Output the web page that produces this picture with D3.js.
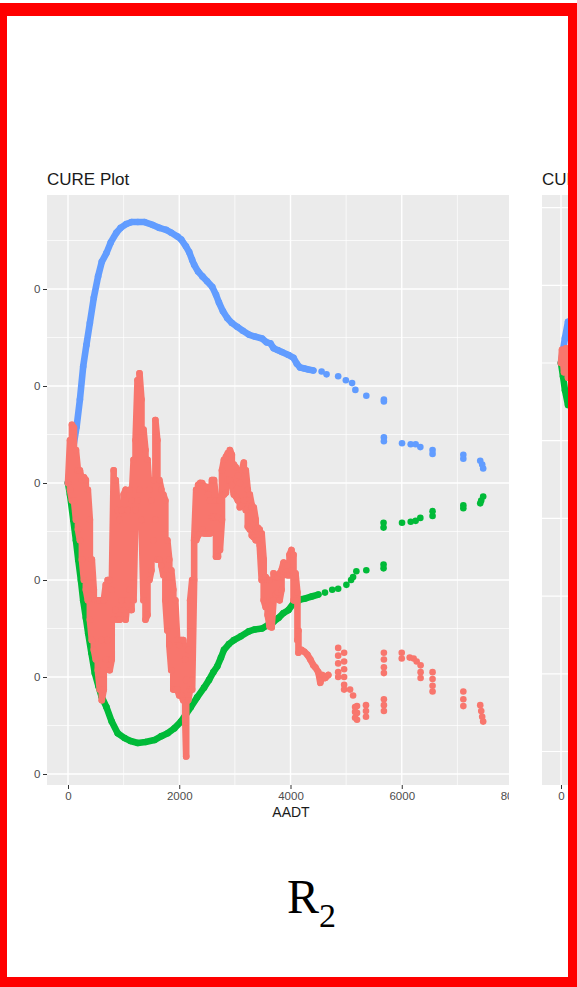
<!DOCTYPE html>
<html>
<head>
<meta charset="utf-8">
<script src="https://cdn.jsdelivr.net/npm/d3@7"></script>
<style>
  body { margin: 0; background: #fff; }
</style>
</head>
<body>
<script>
// Data: [AADT, cumulative residual]

// CURE, dense part (consecutive observations overlap)
var cureLine = [
  [0,0],[36,0.44],[36,-0.07],[71,-0.18],[71,0.60],[107,0.57],[107,-0.18],[143,-0.38],[143,0.34],[179,0.13],[179,-0.48],
  [214,-0.59],[214,0.13],[250,0.03],[250,-0.79],[286,-1.00],[286,0.06],[321,0.03],[321,-1.10],[357,-1.21],[357,-0.07],
  [393,-0.38],[393,-1.41],[429,-1.62],[429,-0.79],[464,-1.10],[464,-1.72],[500,-1.82],[500,-1.21],[536,-1.21],[536,-1.93],
  [571,-2.13],[571,-1.21],[607,-1.62],[607,-2.24],[643,-2.13],[643,-1.21],[679,-1.05],[679,-1.82],[714,-1.62],[714,-1.00],
  [750,-1.00],[750,-1.93],[786,-1.82],[786,-1.10],[821,0.13],[821,-1.41],[857,-1.31],[857,0.03],[893,-0.28],[893,-1.41],
  [929,-1.41],[929,-0.38],[964,-0.28],[964,-1.21],[1000,-1.31],[1000,-0.12],[1036,-0.07],[1036,-1.41],[1071,-1.21],[1071,-0.28],
  [1107,-0.07],[1107,-1.10],[1143,-1.31],[1143,-0.18],[1179,0.24],[1179,-1.21],[1214,-0.28],[1214,0.44],[1250,1.06],[1250,-0.18],
  [1286,-0.07],[1286,1.13],[1321,0.86],[1321,-0.38],[1357,-1.21],[1357,0.55],[1393,0.34],[1393,-1.41],[1429,-1.36],[1429,0.24],
  [1464,-0.07],[1464,-1.00],[1500,-0.90],[1500,-0.18],[1536,0.03],[1536,-0.59],[1571,-0.38],[1571,0.65],[1607,0.44],[1607,-0.79],
  [1643,-0.79],[1643,0.03],[1679,-0.07],[1679,-0.85],[1714,-0.95],[1714,-0.12],[1750,-0.18],[1750,-1.21],[1786,-1.52],[1786,-0.59],
  [1821,-0.79],[1821,-1.67],[1857,-1.93],[1857,-0.90],[1893,-1.10],[1893,-2.13],[1929,-2.13],[1929,-1.21],[1964,-1.62],[1964,-2.13],
  [2000,-2.19],[2000,-1.67],[2036,-1.62],[2036,-2.19],[2071,-2.24],[2071,-1.62],[2107,-1.82],[2107,-2.44],[2125,-2.82],[2125,-2.03],
  [2161,-1.72],[2161,-2.24],[2196,-2.13],[2196,-1.21],[2232,-1.00],[2232,-2.13],[2268,-1.00],[2268,-0.59],[2304,-0.07],[2304,-0.59],
  [2339,-0.54],[2339,-0.02],[2375,0.00],[2375,-0.52],[2411,-0.48],[2411,0.00],[2446,-0.04],[2446,-0.52],[2482,-0.52],[2482,-0.04],
  [2518,-0.12],[2518,-0.52],[2554,-0.52],[2554,-0.18],[2589,0.03],[2589,-0.35],[2625,-0.35],[2625,0.03],[2661,-0.18],[2661,-0.76],
  [2696,-0.76],[2696,-0.35],[2732,-0.18],[2732,-0.69],[2768,-0.38],[2768,0.13],[2804,0.24],[2804,-0.12],[2839,-0.10],[2839,0.27],
  [2875,0.31],[2875,0.03],[2911,0.03],[2911,0.34],[2946,0.29],[2946,-0.02],[2982,-0.12],[2982,0.19],[3018,0.16],[3018,-0.14],
  [3054,-0.18],[3054,0.08],[3089,0.00],[3089,-0.25],[3125,-0.23],[3125,0.13],[3161,0.21],[3161,-0.18],[3196,-0.28],[3196,0.13],
  [3232,-0.07],[3232,-0.45],[3268,-0.48],[3268,-0.12],[3304,-0.23],[3304,-0.54],[3339,-0.56],[3339,-0.25],[3375,-0.38],[3375,-0.59],
  [3411,-0.59],[3411,-0.46],[3446,-0.48],[3446,-0.64],[3482,-1.00],[3482,-0.52],[3518,-0.79],[3518,-1.21],[3554,-1.28],[3554,-0.97],
  [3589,-1.00],[3589,-1.36],[3625,-1.48],[3625,-1.00],[3661,-1.21],[3661,-1.49],[3696,-1.21],[3696,-0.93],[3732,-0.97],[3732,-1.15],
  [3768,-1.13],[3768,-0.97],[3804,-0.93],[3804,-1.21],[3839,-1.10],[3839,-0.90],[3875,-0.82],[3875,-0.95],[3911,-0.92],[3911,-0.85],
  [3946,-0.85],[3946,-0.95],[3982,-0.95],[3982,-0.74],[4018,-0.69],[4018,-0.90],[4054,-0.74],[4054,-1.21],[4089,-1.21],[4089,-0.93],
  [4125,-1.13],[4125,-1.62],[4143,-1.52],[4143,-1.75],[4196,-1.72],[4250,-1.74],[4304,-1.77],[4357,-1.82],[4411,-1.88],[4446,-1.90],
  [4500,-1.95],[4536,-2.06],[4571,-1.98],[4625,-2.01],[4679,-1.98]
];
// CURE, isolated observations at high AADT
var cureDots = [
  [4857,-1.70],[4857,-1.78],[4857,-1.86],[4857,-1.95],[4857,-2.00],
  [4964,-1.75],[4964,-1.84],[4964,-1.92],[4964,-2.00],[4964,-2.08],[4964,-2.13],
  [5071,-2.13],[5125,-2.19],[5161,-2.31],[5161,-2.36],[5161,-2.42],[5196,-2.30],[5196,-2.37],[5196,-2.44],
  [5357,-2.29],[5357,-2.35],[5357,-2.41],
  [5679,-1.75],[5679,-1.82],[5679,-1.90],[5679,-1.96],[5679,-2.23],[5679,-2.29],[5679,-2.35],
  [6000,-1.75],[6000,-1.81],[6143,-1.80],[6214,-1.81],[6268,-1.84],[6339,-1.88],[6339,-1.95],[6339,-2.01],
  [6554,-1.95],[6554,-2.02],[6554,-2.09],[6554,-2.15],
  [7107,-2.15],[7107,-2.23],[7107,-2.30],
  [7411,-2.29],[7429,-2.35],[7446,-2.41],[7464,-2.46]
];

// Upper limit
var upperLine = [
  [0,0],[71,0.29],[155,0.58],[214,0.86],[273,1.20],[330,1.42],[393,1.65],[464,1.91],[541,2.13],[607,2.28],
  [691,2.37],[768,2.48],[870,2.58],[946,2.63],[1048,2.67],[1143,2.69],[1255,2.69],[1375,2.69],[1523,2.66],[1643,2.63],
  [1763,2.61],[1857,2.58],[1970,2.54],[2036,2.51],[2120,2.44],[2179,2.38],[2232,2.30],[2268,2.25],[2339,2.18],[2416,2.13],
  [2500,2.08],[2595,2.02],[2661,1.94],[2714,1.86],[2786,1.77],[2863,1.70],[2946,1.65],[3041,1.61],[3143,1.57],[3250,1.53],
  [3357,1.51],[3488,1.49],[3571,1.45],[3638,1.44],[3696,1.39],[3768,1.37],[3845,1.35],[3964,1.32],[4054,1.29],[4113,1.23],
  [4173,1.19],[4250,1.18],[4321,1.17],[4411,1.16]
];
var upperDots = [
  [4559,1.15],[4648,1.12],[4857,1.10],[4995,1.06],[5107,1.03],[5166,0.96],[5363,0.90],[5679,0.86],[5679,0.84],
  [5679,0.47],[5679,0.43],[6005,0.41],[6161,0.40],[6250,0.40],[6334,0.37],[6554,0.34],[6554,0.30],
  [7107,0.29],[7107,0.25],[7411,0.23],[7446,0.19],[7464,0.15]
];

// Lower limit
var lowerLine = [
  [0,0],[36,-0.12],[95,-0.38],[143,-0.59],[184,-0.79],[232,-1.00],[273,-1.21],[321,-1.39],[363,-1.55],[420,-1.75],
  [482,-1.96],[545,-2.09],[602,-2.20],[691,-2.31],[786,-2.46],[893,-2.58],[1018,-2.63],[1125,-2.66],[1255,-2.68],[1393,-2.67],
  [1554,-2.65],[1679,-2.61],[1791,-2.58],[1911,-2.53],[2030,-2.46],[2125,-2.38],[2209,-2.31],[2321,-2.21],[2446,-2.11],[2536,-2.03],
  [2613,-1.95],[2684,-1.89],[2750,-1.80],[2804,-1.72],[2893,-1.66],[2982,-1.62],[3107,-1.58],[3250,-1.53],[3357,-1.51],[3488,-1.50],
  [3607,-1.46],[3696,-1.43],[3786,-1.39],[3875,-1.34],[3964,-1.31],[4054,-1.24],[4113,-1.23],[4173,-1.20],[4268,-1.19],[4380,-1.17],
  [4500,-1.15]
];
var lowerDots = [
  [4620,-1.13],[4750,-1.10],[4857,-1.09],[5005,-1.05],[5089,-1.00],[5125,-0.97],[5184,-0.91],[5363,-0.90],[5673,-0.88],[5673,-0.84],
  [5673,-0.46],[5673,-0.41],[6005,-0.41],[6161,-0.40],[6250,-0.39],[6334,-0.36],[6554,-0.34],[6554,-0.29],
  [7107,-0.26],[7107,-0.23],[7411,-0.21],[7429,-0.18],[7464,-0.14]
];

// ticks
var xTicks = [0, 2000, 4000, 6000, 8000];
var xTickLabels = ["0", "2000", "4000", "6000", "8000"];
var yTicks = [-3, -2, -1, 0, 1, 2];
var yTickLabels = ["0", "0", "0", "0", "0", "0"];

// second plot on the right, only its start is visible
var cure2 = [[0,0],[18,0.17],[54,-0.12],[89,0.19],[125,-0.19]];
var upper2 = [[0,0],[36,0.17],[71,0.32],[125,0.53]];
var lower2 = [[0,0],[36,-0.17],[71,-0.35],[125,-0.54]];
var yGrid2 = [2, 1, 0, -1, -2, -3, -4, -5];

var colors = { cure: "#F8766D", upper: "#619CFF", lower: "#00BA38" };
var sans = "'Liberation Sans', Arial, sans-serif";

var svgWidth = 577;
var svgHeight = 987;

var svg = d3.select("body")
  .append("svg")
  .attr("width", svgWidth)
  .attr("height", svgHeight)
  .style("font-family", sans);

svg.append("rect").attr("width", svgWidth).attr("height", svgHeight).attr("fill", "#fff");

// first plot, cropped at its right side
var panel = { left: 47, top: 195, right: 509, bottom: 785 };

var xScale = d3.scaleLinear().domain([0, 8000]).range([68, 513]);
var yScale = d3.scaleLinear().domain([-3, 2]).range([774, 289]);

var defs = svg.append("defs");
defs.append("clipPath").attr("id", "crop1")
  .append("rect").attr("x", 0).attr("y", 0).attr("width", panel.right).attr("height", svgHeight);
defs.append("clipPath").attr("id", "panel1")
  .append("rect")
  .attr("x", panel.left).attr("y", panel.top)
  .attr("width", panel.right - panel.left).attr("height", panel.bottom - panel.top);

var fig1 = svg.append("g").attr("clip-path", "url(#crop1)");

fig1.append("rect")
  .attr("x", panel.left).attr("y", panel.top)
  .attr("width", panel.right - panel.left).attr("height", panel.bottom - panel.top)
  .attr("fill", "#EBEBEB");

// grid lines
var grid = fig1.append("g").attr("clip-path", "url(#panel1)");
var yMinor = yTicks.map(d => d + 0.5);
var xMinor = xTicks.map(d => d + 1000);

grid.selectAll(".ymin").data(yMinor).enter().append("line")
  .attr("x1", panel.left).attr("x2", panel.right)
  .attr("y1", d => yScale(d)).attr("y2", d => yScale(d))
  .attr("stroke", "#fff").attr("stroke-width", 0.7);
grid.selectAll(".xmin").data(xMinor).enter().append("line")
  .attr("y1", panel.top).attr("y2", panel.bottom)
  .attr("x1", d => xScale(d)).attr("x2", d => xScale(d))
  .attr("stroke", "#fff").attr("stroke-width", 0.7);
grid.selectAll(".ymaj").data(yTicks).enter().append("line")
  .attr("x1", panel.left).attr("x2", panel.right)
  .attr("y1", d => yScale(d)).attr("y2", d => yScale(d))
  .attr("stroke", "#fff").attr("stroke-width", 1.4);
grid.selectAll(".xmaj").data(xTicks).enter().append("line")
  .attr("y1", panel.top).attr("y2", panel.bottom)
  .attr("x1", d => xScale(d)).attr("x2", d => xScale(d))
  .attr("stroke", "#fff").attr("stroke-width", 1.4);

// series: dense runs drawn as a thick round path plus a dot per observation
var pointR = 3.3;

function drawSeries(g, dense, dots, color, xs, ys) {
  var ln = d3.line().x(d => xs(d[0])).y(d => ys(d[1]));
  g.append("path")
    .attr("d", ln(dense))
    .attr("fill", "none")
    .attr("stroke", color)
    .attr("stroke-width", pointR * 2)
    .attr("stroke-linejoin", "round")
    .attr("stroke-linecap", "round");
  g.append("g").selectAll("circle")
    .data(dense.concat(dots))
    .enter()
    .append("circle")
    .attr("cx", d => xs(d[0]))
    .attr("cy", d => ys(d[1]))
    .attr("r", pointR)
    .attr("fill", color);
}

var marks = fig1.append("g").attr("clip-path", "url(#panel1)");
drawSeries(marks, upperLine, upperDots, colors.upper, xScale, yScale);
drawSeries(marks, lowerLine, lowerDots, colors.lower, xScale, yScale);
drawSeries(marks, cureLine, cureDots, colors.cure, xScale, yScale);

// axes
var leftAxis = d3.axisLeft(yScale)
  .tickValues(yTicks)
  .tickFormat((d, i) => yTickLabels[i])
  .tickSize(4).tickPadding(2.5);
var bottomAxis = d3.axisBottom(xScale)
  .tickValues(xTicks)
  .tickFormat((d, i) => xTickLabels[i])
  .tickSize(4).tickPadding(2.5);

var gy = fig1.append("g").attr("transform", `translate(${panel.left},0)`).call(leftAxis);
var gx = fig1.append("g").attr("transform", `translate(0,${panel.bottom})`).call(bottomAxis);

function styleAxis(g) {
  g.select(".domain").remove();
  g.selectAll("line").attr("stroke", "#333").attr("stroke-width", 1);
  g.selectAll("text")
    .attr("fill", "#4D4D4D")
    .attr("font-size", "11.5px")
    .attr("font-family", sans);
}
styleAxis(gy);
styleAxis(gx);

fig1.append("text")
  .attr("x", panel.left).attr("y", 184.5)
  .attr("font-size", "17px").attr("fill", "#1a1a1a")
  .text("CURE Plot");

fig1.append("text")
  .attr("x", 291).attr("y", 817)
  .attr("text-anchor", "middle")
  .attr("font-size", "14px").attr("fill", "#1a1a1a")
  .text("AADT");

// second plot (cut off by the frame)
var panel2 = { left: 542, top: 195, bottom: 785 };
var x2 = d3.scaleLinear().domain([0, 1000]).range([561, 617]);
var y2 = d3.scaleLinear().domain([0, 1]).range([363, 285.3]);

defs.append("clipPath").attr("id", "panel2")
  .append("rect")
  .attr("x", panel2.left).attr("y", panel2.top)
  .attr("width", 100).attr("height", panel2.bottom - panel2.top);

var fig2 = svg.append("g");
fig2.append("rect")
  .attr("x", panel2.left).attr("y", panel2.top)
  .attr("width", 100).attr("height", panel2.bottom - panel2.top)
  .attr("fill", "#EBEBEB");
var g2 = fig2.append("g").attr("clip-path", "url(#panel2)");
g2.selectAll(".h").data(yGrid2).enter().append("line")
  .attr("x1", panel2.left).attr("x2", panel2.left + 100)
  .attr("y1", d => y2(d)).attr("y2", d => y2(d))
  .attr("stroke", "#fff").attr("stroke-width", 1.2);
g2.append("line")
  .attr("x1", x2(0)).attr("x2", x2(0))
  .attr("y1", panel2.top).attr("y2", panel2.bottom)
  .attr("stroke", "#fff").attr("stroke-width", 1.4);
drawSeries(g2, upper2, [], colors.upper, x2, y2);
drawSeries(g2, lower2, [], colors.lower, x2, y2);
drawSeries(g2, cure2, [], colors.cure, x2, y2);

var gx2 = fig2.append("g").attr("transform", `translate(0,${panel2.bottom})`)
  .call(d3.axisBottom(x2).tickValues([0]).tickFormat(() => "0").tickSize(4).tickPadding(2.5));
styleAxis(gx2);

fig2.append("text")
  .attr("x", panel2.left).attr("y", 184.5)
  .attr("font-size", "17px").attr("fill", "#1a1a1a")
  .text("CURE Plot");

// caption
var cap = svg.append("text")
  .attr("x", 287).attr("y", 913)
  .style("font-family", "'Liberation Serif', 'Times New Roman', serif")
  .attr("fill", "#000");
cap.append("tspan").attr("font-size", "48px").text("R");
cap.append("tspan").attr("font-size", "34px").attr("dy", 14).text("2");

// red frame
var frame = svg.append("g").attr("fill", "#FF0000");
frame.append("rect").attr("x", 0).attr("y", 3).attr("width", svgWidth).attr("height", 13);
frame.append("rect").attr("x", 0).attr("y", 3).attr("width", 7).attr("height", svgHeight - 3);
frame.append("rect").attr("x", 568).attr("y", 3).attr("width", 9).attr("height", svgHeight - 3);
frame.append("rect").attr("x", 0).attr("y", 977).attr("width", svgWidth).attr("height", 10);
</script>
</body>
</html>
